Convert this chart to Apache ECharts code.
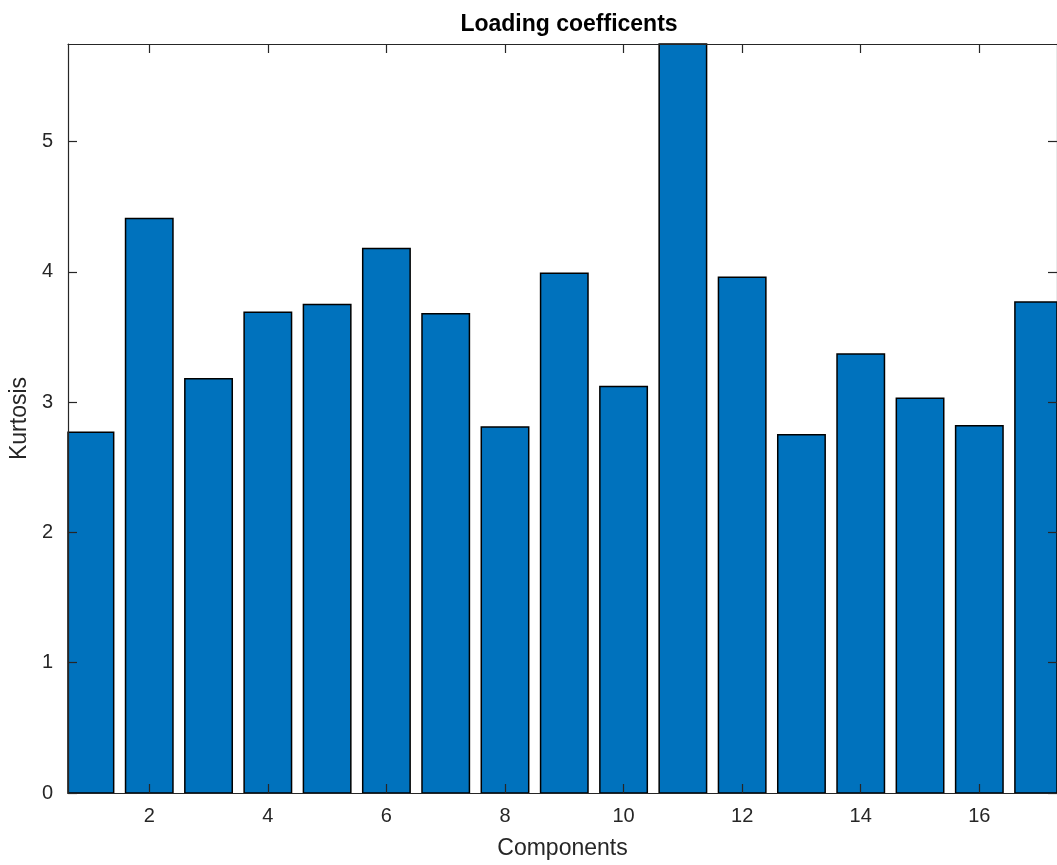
<!DOCTYPE html>
<html>
<head>
<meta charset="utf-8">
<script src="https://cdn.jsdelivr.net/npm/echarts@6/dist/echarts.min.js"></script>
<style>
html,body{margin:0;padding:0;background:#fff;}
#chart{width:1057px;height:865px;}
</style>
</head>
<body>
<div id="chart"></div>
<script>
const components = [1,2,3,4,5,6,7,8,9,10,11,12,13,14,15,16,17];
const kurtosis = [2.77,4.41,3.18,3.69,3.75,4.18,3.68,2.81,3.99,3.12,6.20,3.96,2.75,3.37,3.03,2.82,3.77];
const xTicks = [2,4,6,8,10,12,14,16];
const yTicks = [0,1,2,3,4,5];

const FONT = 'Liberation Sans';
const AX = '#262626';

const chart = echarts.init(document.getElementById('chart'));

function renderBar(params, api) {
  const x = api.value(0), y = api.value(1);
  const p0 = api.coord([x - 0.4, 0]);
  const p1 = api.coord([x + 0.4, y]);
  const rect = {x: p0[0], y: p1[1], width: p1[0] - p0[0], height: p0[1] - p1[1]};
  const cs = params.coordSys;
  const clipped = echarts.graphic.clipRectByRect(rect, {x: cs.x, y: cs.y, width: cs.width, height: cs.height});
  if (!clipped) return;
  return {
    type: 'rect',
    shape: clipped,
    style: {fill: '#0072BD', stroke: '#000', lineWidth: 1.5}
  };
}

const tickCommon = {inside: true, length: 9, lineStyle: {color: AX, width: 1.2}};
const lineCommon = {show: true, onZero: false, lineStyle: {color: AX, width: 1.2}};

chart.setOption({
  animation: false,
  backgroundColor: '#fff',
  title: {
    text: 'Loading coefficents',
    left: 564, top: 8, textAlign: 'center',
    textStyle: {fontFamily: FONT, fontWeight: 'bold', fontSize: 23, color: '#000'}
  },
  grid: {left: 66, top: 44, right: 0, bottom: 71, containLabel: false},
  xAxis: [{
    type: 'value', min: 0.63, max: 17.31, position: 'bottom', z: 10,
    name: 'Components', nameLocation: 'middle', nameGap: 44,
    nameTextStyle: {fontFamily: FONT, fontSize: 23, color: AX},
    axisLine: lineCommon,
    axisTick: Object.assign({show: true, customValues: xTicks}, tickCommon),
    axisLabel: {customValues: xTicks, margin: 13, fontFamily: FONT, fontSize: 20, color: AX},
    splitLine: {show: false}
  }, {
    type: 'value', min: 0.63, max: 17.31, position: 'top', z: 10,
    axisLine: lineCommon,
    axisTick: Object.assign({show: true, customValues: xTicks}, tickCommon),
    axisLabel: {show: false},
    splitLine: {show: false}
  }],
  yAxis: [{
    type: 'value', min: 0, max: 5.75, position: 'left', z: 10,
    name: 'Kurtosis', nameLocation: 'middle', nameGap: 28,
    nameTextStyle: {fontFamily: FONT, fontSize: 23, color: AX},
    axisLine: lineCommon,
    axisTick: Object.assign({show: true, customValues: yTicks}, tickCommon),
    axisLabel: {customValues: yTicks, margin: 15, fontFamily: FONT, fontSize: 20, color: AX},
    splitLine: {show: false}
  }, {
    type: 'value', min: 0, max: 5.75, position: 'right', z: 10,
    axisLine: lineCommon,
    axisTick: Object.assign({show: true, customValues: yTicks}, tickCommon),
    axisLabel: {show: false},
    splitLine: {show: false}
  }],
  series: [{
    type: 'custom',
    xAxisIndex: 0, yAxisIndex: 0, z: 1,
    renderItem: renderBar,
    encode: {x: 0, y: 1},
    data: components.map((c, i) => [c, kurtosis[i]])
  }]
});
</script>
</body>
</html>
